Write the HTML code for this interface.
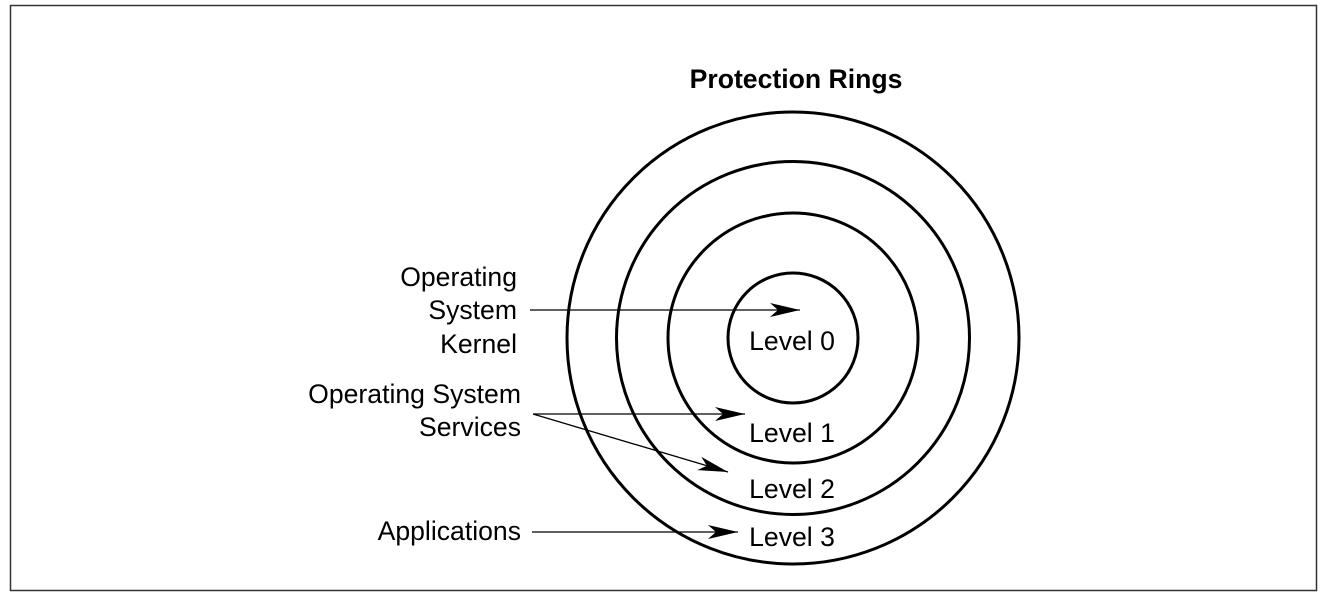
<!DOCTYPE html>
<html><head><style>
body{margin:0;background:#fff;}
svg{display:block;}
text{font-family:"Liberation Sans",Arial,sans-serif;font-size:26.6px;fill:#000;}
</style></head><body>
<svg width="1326" height="595" viewBox="0 0 1326 595">
<defs><marker id="a" markerWidth="30" markerHeight="14" refX="30" refY="7" orient="auto" markerUnits="userSpaceOnUse"><path d="M0,0 L30,7 L0,14 L8,7 Z" fill="#000"/></marker></defs>
<rect x="10.5" y="5.5" width="1306" height="585" fill="none" stroke="#333" stroke-width="1.5"/>
<text x="796" y="88" text-anchor="middle" font-weight="bold">Protection Rings</text>
<g fill="none" stroke="#000" stroke-width="3">
<circle cx="793" cy="338" r="226"/>
<circle cx="793" cy="338" r="176.5"/>
<circle cx="793" cy="338" r="125"/>
<circle cx="793" cy="338" r="65"/>
</g>
<g stroke="#000" stroke-width="1.3">
<line x1="530" y1="310" x2="800" y2="310" marker-end="url(#a)"/>
<line x1="533" y1="414" x2="745" y2="414" marker-end="url(#a)"/>
<line x1="533" y1="414" x2="728" y2="472" marker-end="url(#a)"/>
<line x1="532" y1="532" x2="738" y2="532" marker-end="url(#a)"/>
</g>
<g text-anchor="middle">
<text x="792" y="350">Level 0</text>
<text x="792" y="442">Level 1</text>
<text x="792" y="498">Level 2</text>
<text x="792" y="546">Level 3</text>
</g>
<g text-anchor="end">
<text x="517" y="286">Operating</text>
<text x="517" y="319">System</text>
<text x="517" y="353">Kernel</text>
<text x="521" y="403">Operating System</text>
<text x="521" y="436">Services</text>
<text x="521" y="540">Applications</text>
</g>
</svg>
</body></html>
